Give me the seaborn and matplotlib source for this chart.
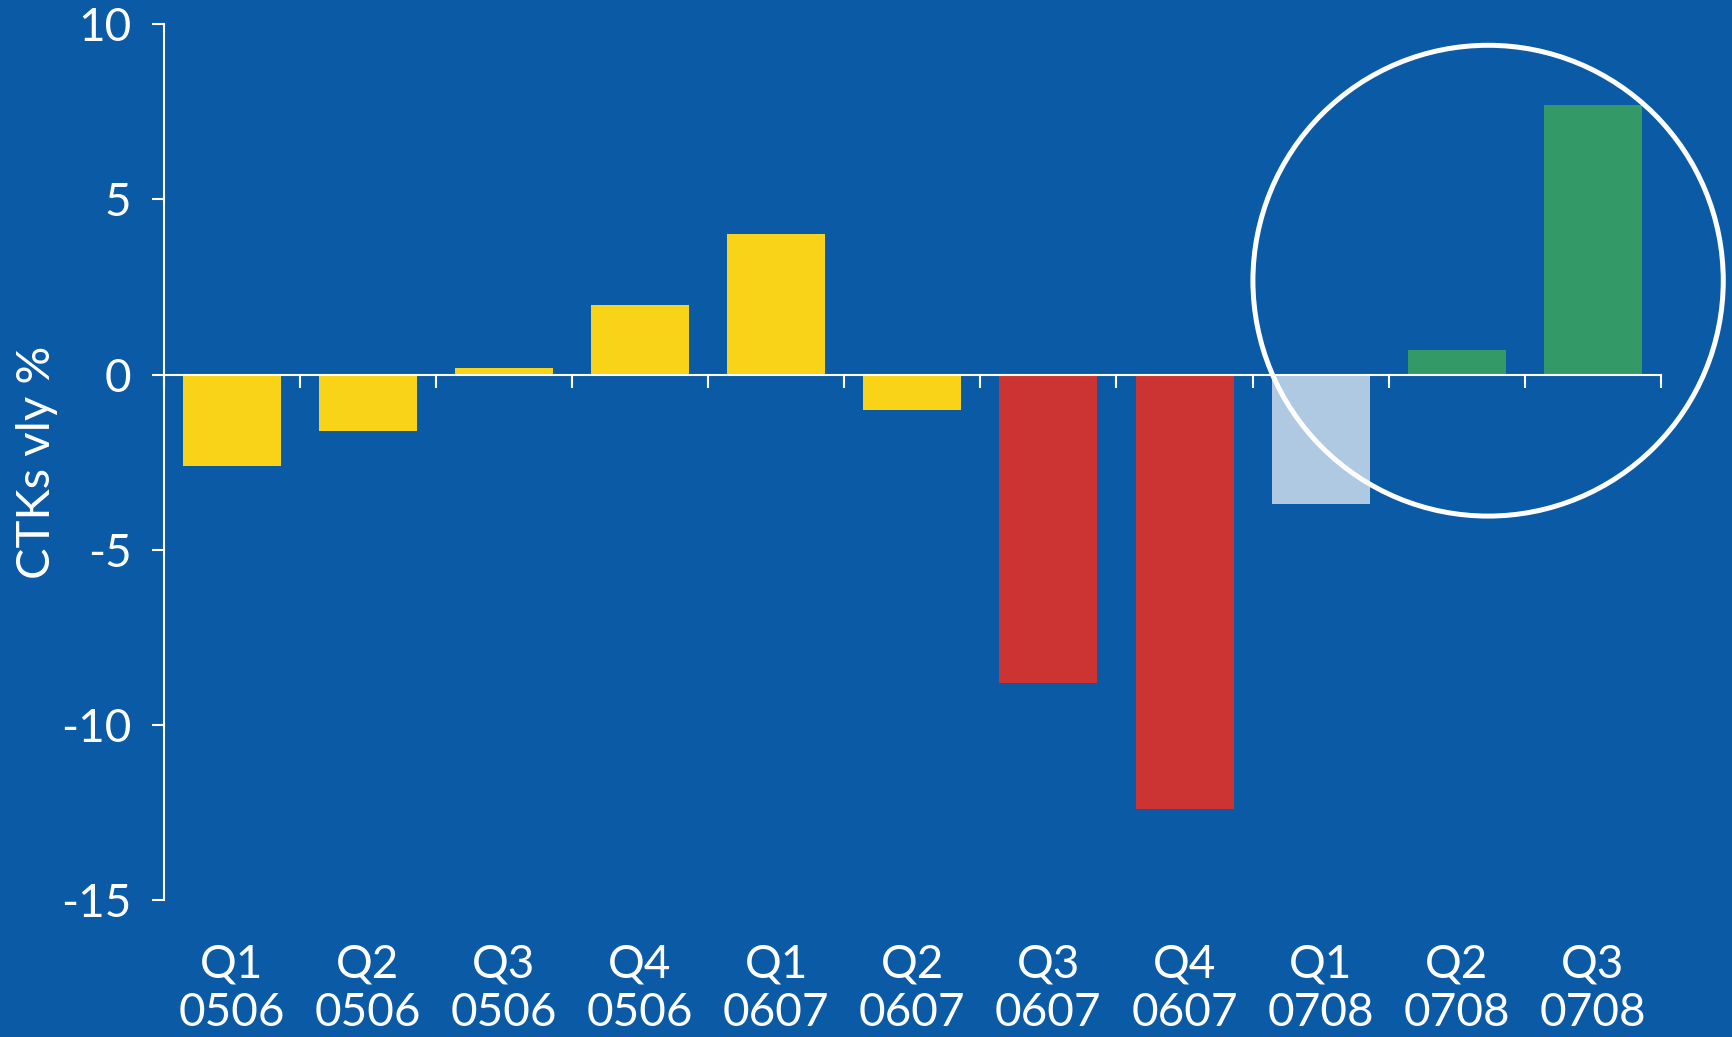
import matplotlib
matplotlib.use("Agg")
import matplotlib.pyplot as plt
import seaborn as sns
import pandas as pd
from matplotlib.patches import Ellipse

quarters = ["Q1", "Q2", "Q3", "Q4", "Q1", "Q2", "Q3", "Q4", "Q1", "Q2", "Q3"]
years = ["0506", "0506", "0506", "0506", "0607", "0607", "0607", "0607", "0708", "0708", "0708"]
values = [-2.6, -1.6, 0.2, 2.0, 4.0, -1.0, -8.8, -12.4, -3.7, 0.7, 7.7]
bar_colors = ["#F9D318", "#F9D318", "#F9D318", "#F9D318", "#F9D318", "#F9D318",
              "#CC3333", "#CC3333", "#AFC9E3", "#339966", "#339966"]
y_ticks = [10, 5, 0, -5, -10, -15]
y_label = "CTKs vly %"

BG = "#0A5AA5"
sns.set_theme(style="white")
plt.rcParams['font.family'] = ['Lato', 'DejaVu Sans']

labels = [f"{q}\n{y}" for q, y in zip(quarters, years)]
df = pd.DataFrame({"label": labels, "value": values})

fig = plt.figure(figsize=(17.32, 10.37), dpi=100, facecolor=BG)
ax = fig.add_axes([0.0944, 0.1321, 0.959 - 0.0944, 0.9766 - 0.1321])
ax.set_facecolor(BG)

sns.barplot(data=df, x="label", y="value", hue="label", palette=bar_colors,
            legend=False, width=0.72, saturation=1, ax=ax, linewidth=0)

ax.set_ylim(-15, 10)
ax.set_xlim(-0.5, len(values) - 0.5)
ax.set_yticks(y_ticks)
ax.set_yticklabels([str(t) for t in y_ticks], fontsize=33, color="white",
                   fontweight="normal")

for s in ["top", "right"]:
    ax.spines[s].set_visible(False)
ax.spines["left"].set_color("white")
ax.spines["left"].set_linewidth(1.5)
ax.spines["bottom"].set_color("white")
ax.spines["bottom"].set_linewidth(1.5)
ax.spines["bottom"].set_position(("data", 0))

ax.tick_params(axis="y", colors="white", length=9, width=1.5, pad=14,
               direction="out", left=True)

# boundary ticks on the zero line
ax.set_xticks([i - 0.5 for i in range(len(values) + 1)])
ax.set_xticklabels([])
ax.tick_params(axis="x", colors="white", length=9, width=1.5, direction="out",
               bottom=True)
ax.set_xlabel("")
ax.set_ylabel(y_label, color="white", fontsize=34, fontweight="normal", labelpad=2)

sec = ax.secondary_xaxis("bottom")
sec.set_xticks(range(len(values)))
sec.set_xticklabels(labels, fontsize=33, color="white", fontweight="normal",
                    linespacing=1.2)
sec.tick_params(axis="x", length=0, pad=31, colors="white")
sec.spines["bottom"].set_visible(False)

circ = Ellipse((9.23, 2.68), width=3.455, height=13.44, fill=False,
               edgecolor="white", linewidth=3.6, clip_on=False, zorder=5)
ax.add_patch(circ)

fig.savefig("out.png", dpi=100, facecolor=BG)
